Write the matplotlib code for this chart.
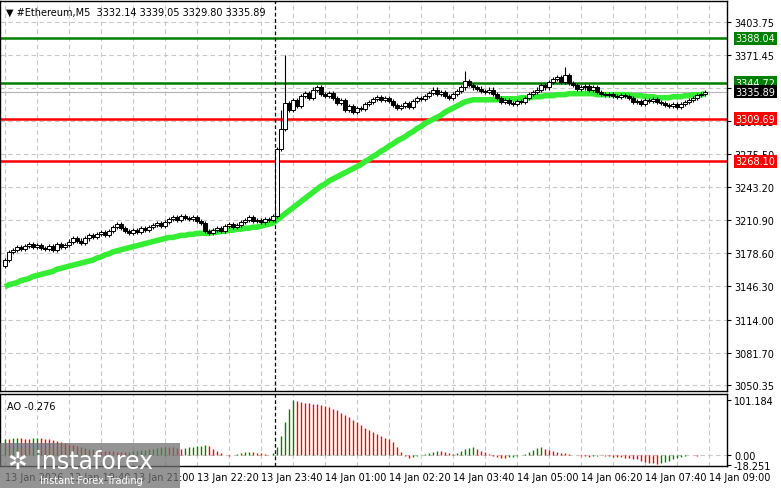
import matplotlib
matplotlib.use("Agg")
import matplotlib.pyplot as plt
import matplotlib.transforms as mtransforms
from matplotlib.patches import Rectangle

closes = [3172,3180,3182,3185,3183,3186,3188,3185,3187,3184,
          3183,3186,3182,3188,3185,3187,3190,3193,3191,3189,
          3193,3196,3194,3197,3199,3196,3200,3204,3207,3203,
          3200,3198,3201,3199,3203,3201,3204,3206,3208,3205,
          3209,3212,3214,3211,3215,3213,3212,3214,3210,3208,
          3200,3198,3201,3203,3200,3205,3207,3204,3206,3209,
          3211,3214,3210,3211,3209,3212,3211,
          3215,3280,3300,
          3325,3318,3328,3322,3332,3335,3330,3338,3340,3334,
          3332,3335,3330,3325,3328,3318,3322,3316,3320,3319,
          3324,3326,3329,3331,3328,3330,3327,3323,3320,3322,
          3325,3321,3327,3330,3329,3332,3335,3338,3334,3336,
          3332,3330,3334,3337,3340,3346,3342,3340,3339,3337,
          3336,3338,3334,3330,3326,3328,3325,3324,3327,3326,
          3330,3334,3336,3338,3342,3340,3345,3348,3350,3345,
          3352,3344,3342,3339,3340,3341,3338,3340,3336,3334,
          3333,3334,3332,3331,3333,3332,3330,3326,3327,3324,
          3328,3327,3329,3326,3325,3323,3322,3324,3321,3324,
          3326,3328,3330,3333,3334,3335.89]
spike_highs = {70: 3372, 115: 3356, 140: 3360, 69: 3318}
ma = [3146,3148,3149,3150,3152,3153,3154,3156,3157,3158,
      3159,3160,3161,3163,3164,3165,3166,3167,3168,3169,
      3170,3171,3172,3174,3175,3177,3178,3180,3181,3182,
      3183,3184,3185,3186,3187,3188,3189,3190,3191,3192,
      3193,3194,3194,3195,3196,3196,3197,3197,3198,3198,
      3198,3198,3199,3199,3200,3200,3201,3201,3202,3202,
      3203,3203,3204,3204,3205,3206,3207,
      3208,3211,3214,3217,3220,3223,3226,3229,3232,3235,3238,3241,3244,
      3246,3249,3251,3253,3255,3257,3259,3261,3263,3265,
      3268,3270,3273,3275,3278,3280,3283,3285,3288,3290,
      3292,3295,3297,3300,3302,3305,3307,3309,3311,3313,
      3316,3318,3320,3322,3324,3326,3327,3328,3328,3328,
      3328,3328,3328,3328,3329,3329,3329,3329,3329,3330,
      3330,3330,3331,3331,3331,3332,3332,3332,3333,3333,
      3333,3334,3334,3334,3334,3334,3334,3334,3333,3333,
      3333,3333,3333,3333,3333,3333,3333,3332,3332,3332,
      3331,3331,3331,3330,3330,3330,3330,3331,3331,3331,
      3332,3332,3333,3333,3333,3334]
ao = [30,30,31,32,31,30,30,31,32,31,30,29,28,26,24,22,20,
      18,16,14,13,12,11,10,9,8,8,7,6,6,5,
      6,7,8,9,10,11,12,13,14,15,15,14,13,12,13,
      14,15,16,17,18,16,12,8,4,1,
      -1,0,2,3,5,6,5,4,3,2,1,
      3,15,35,60,85,101,99,97,96,95,94,93,92,
      90,88,85,82,78,74,70,65,60,55,
      50,46,42,38,35,32,30,24,15,5,
      -2,-5,-4,-2,0,2,4,6,8,7,
      5,3,2,4,8,11,13,14,12,8,
      5,2,-1,-3,-5,-6,-4,-3,-2,0,
      2,6,10,13,15,12,10,8,6,4,
      3,2,1,0,-1,-2,-3,-2,-1,0,
      -1,-2,-3,-4,-4,-5,-6,-7,-8,-10,
      -12,-14,-15,-16,-14,-12,-10,-8,-6,-4,
      -2,0,1,-1,-0.5,-0.276]
price_ticks = [3403.75,3371.45,3339.15,3307.85,3275.50,3243.20,3210.90,3178.60,3146.30,3114.00,3081.70,3050.35]
levels = [(3388.04,'#008000'),(3344.72,'#008000'),(3309.69,'#ff0000'),(3268.10,'#ff0000')]
last_price = 3335.89
time_labels = ['13 Jan 2026','13 Jan 19:40','13 Jan 21:00','13 Jan 22:20','13 Jan 23:40','14 Jan 01:00',
               '14 Jan 02:20','14 Jan 03:40','14 Jan 05:00','14 Jan 06:20','14 Jan 07:40','14 Jan 09:00']

N = len(closes)
opens = [closes[0]-6] + closes[:-1]

W, H = 781, 489
fig = plt.figure(figsize=(W/100, H/100), dpi=100)
def px2x(p): return (p-5)/4.0
xl = (px2x(0), px2x(727))
ax = fig.add_axes([0, 1-392/H, 727/W, 390/H])
ax2 = fig.add_axes([0, 1-467/H, 727/W, 72/H])
for a in (ax, ax2):
    a.set_xlim(*xl)
    for s in a.spines.values():
        s.set_color('black'); s.set_linewidth(1)
    a.set_xticks([])
ax.set_ylim(3044.5, 3424.2)
ax2.set_ylim(-20, 112)

gx = [px2x(709 - 32*k) for k in range(23)]
for g in gx:
    ax.axvline(g, color='#c8c8c8', ls=(0,(4,3)), lw=0.8, zorder=0)
    ax2.axvline(g, color='#c8c8c8', ls=(0,(4,3)), lw=0.8, zorder=0)
for p in price_ticks:
    ax.axhline(p, color='#c8c8c8', ls=(0,(4,3)), lw=0.8, zorder=0)
ax2.axhline(0, color='#c8c8c8', ls=(0,(4,3)), lw=0.8, zorder=0)

ax.yaxis.tick_right()
ax.set_yticks(price_ticks)
ax.set_yticklabels([f'{p:.2f}' for p in price_ticks], fontsize=7)
ax.tick_params(axis='y', length=3, pad=2)
ax2.yaxis.tick_right()
ax2.set_yticks([101.184, 0, -18.251])
ax2.set_yticklabels(['101.184','0.00','-18.251'], fontsize=7)
ax2.tick_params(axis='y', length=3, pad=2)

for lv, c in levels:
    ax.axhline(lv, color=c, lw=1.8, zorder=2)
ax.axhline(last_price, color='#b4b4b4', lw=0.8, zorder=1)

ax.plot(range(N), ma, color='#33ee33', lw=4, zorder=3, solid_capstyle='butt')

for i in range(N):
    o, c = opens[i], closes[i]
    hi = spike_highs.get(i, max(o, c) + 2)
    lo = min(o, c) - 2
    ax.vlines(i, lo, hi, color='black', lw=0.8, zorder=4)
    bull = c >= o
    ax.add_patch(Rectangle((i-0.4, min(o, c)), 0.8, max(abs(c-o), 0.6),
                           facecolor='white' if bull else 'black', edgecolor='black', lw=0.7, zorder=5))

cols = ['#008000'] + ['#008000' if ao[i] > ao[i-1] else '#ff0000' for i in range(1, N)]
ax2.vlines(range(N), 0, ao, colors=cols, lw=1.0)

ax.axvline(67.5, color='black', ls=(0,(3,2)), lw=0.9, zorder=6)
ax2.axvline(67.5, color='black', ls=(0,(3,2)), lw=0.9, zorder=6)

tr = mtransforms.blended_transform_factory(ax.transAxes, ax.transData)
for lv, c in levels + [(last_price, 'black')]:
    ax.text(1.012, lv, f'{lv:.2f}', transform=tr, fontsize=7, color='white', va='center', ha='left',
            bbox=dict(boxstyle='square,pad=0.15', fc=c, ec='none'), clip_on=False, zorder=10)

ax.text(0.008, 0.985, '▼ #Ethereum,M5  3332.14 3339.05 3329.80 3335.89', transform=ax.transAxes,
        fontsize=7, va='top', ha='left')
ax2.text(0.01, 0.9, 'AO -0.276', transform=ax2.transAxes, fontsize=7, va='top', ha='left')

for k, lab in enumerate(reversed(time_labels)):
    xp = 709 - 64*k
    fig.text(xp/W, 1-478/H, lab, fontsize=7, ha='left', va='center')

fig.patches.append(Rectangle((0, 0), 180/W, 45/H, transform=fig.transFigure,
                             facecolor='#707070', alpha=0.75, edgecolor='none', zorder=20))
fig.text(8/W, 1-462/H, '✲ instaforex', fontsize=17, color='white', ha='left', va='center', zorder=21,
         family=['DejaVu Sans'])
fig.text(40/W, 1-481/H, 'Instant Forex Trading', fontsize=7, color='white', ha='left', va='center', zorder=21)

fig.savefig('out.png', dpi=100, facecolor='white')
